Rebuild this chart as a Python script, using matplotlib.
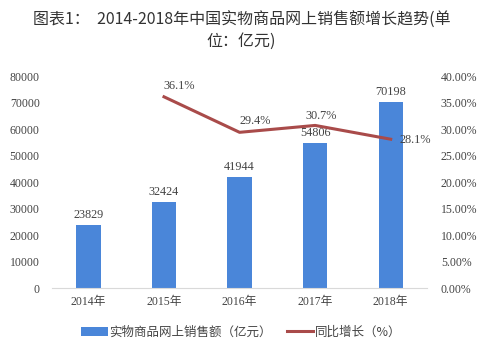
import matplotlib
matplotlib.use("Agg")
import matplotlib.pyplot as plt
from matplotlib.ticker import FuncFormatter

years = ["2014年", "2015年", "2016年", "2017年", "2018年"]
sales = [23829, 32424, 41944, 54806, 70198]
growth_years = ["2015年", "2016年", "2017年", "2018年"]
growth = [36.1, 29.4, 30.7, 28.1]

cjk = ["Noto Sans CJK SC", "DejaVu Sans"]
num = ["Liberation Serif", "Noto Sans CJK SC"]
bar_color = "#4A86D9"
line_color = "#A94B4A"
txt = "#444444"

fig = plt.figure(figsize=(4.83, 3.43), dpi=100)
ax = fig.add_axes([0.108, 0.16, 0.776, 0.618])
ax2 = ax.twinx()

x = list(range(len(years)))
bars = ax.bar(x, sales, width=0.32, color=bar_color, label="实物商品网上销售额（亿元）", zorder=2)
for xi, v in zip(x, sales):
    ax.text(xi, v + 1500, str(v), ha="center", va="bottom", fontsize=8.8, family=num, color=txt)

gx = [years.index(y) for y in growth_years]
ln, = ax2.plot(gx, growth, color=line_color, lw=2.2, label="同比增长（%）", zorder=3)
offsets = [(-1, 11), (0, 11), (-10, 9), (9, -1)]
for xi, v, (dx, dy) in zip(gx, growth, offsets):
    ax2.annotate(f"{v}%", (xi, v), xytext=(dx, dy), textcoords="offset pixels",
                 ha="left", va="center", fontsize=8.8, family=num, color=txt)

ax.set_xlim(-0.48, 4.48)
ax.set_ylim(0, 80000)
ax.set_yticks(range(0, 80001, 10000))
ax2.set_ylim(0, 40)
ax2.set_yticks(range(0, 41, 5))
ax2.yaxis.set_major_formatter(FuncFormatter(lambda v, p: f"{v:.2f}%"))

ax.set_xticks(x)
ax.set_xticklabels(years)
for a in (ax, ax2):
    for s in a.spines.values():
        s.set_visible(False)
    a.tick_params(length=0, labelsize=8.5, colors=txt)
    for lab in a.get_xticklabels() + a.get_yticklabels():
        lab.set_family(num)
ax.spines["bottom"].set_visible(True)
ax.spines["bottom"].set_color("#D9D9D9")
ax.tick_params(axis="x", pad=6)
ax.tick_params(axis="y", pad=9)
ax2.tick_params(axis="y", pad=10)

fig.text(0.5, 0.965, "图表1：  2014-2018年中国实物商品网上销售额增长趋势(单\n位：亿元)",
         ha="center", va="top", fontsize=11.5, family=cjk, color="#333333", linespacing=1.25)

leg = fig.legend([bars, ln], ["实物商品网上销售额（亿元）", "同比增长（%）"],
                 loc="lower center", bbox_to_anchor=(0.5, -0.02), ncol=2, frameon=False,
                 prop={"family": cjk, "size": 9}, handlelength=2.1, columnspacing=1.2,
                 handletextpad=0.15)
for t in leg.get_texts():
    t.set_color(txt)

fig.savefig("out.png", dpi=100)
